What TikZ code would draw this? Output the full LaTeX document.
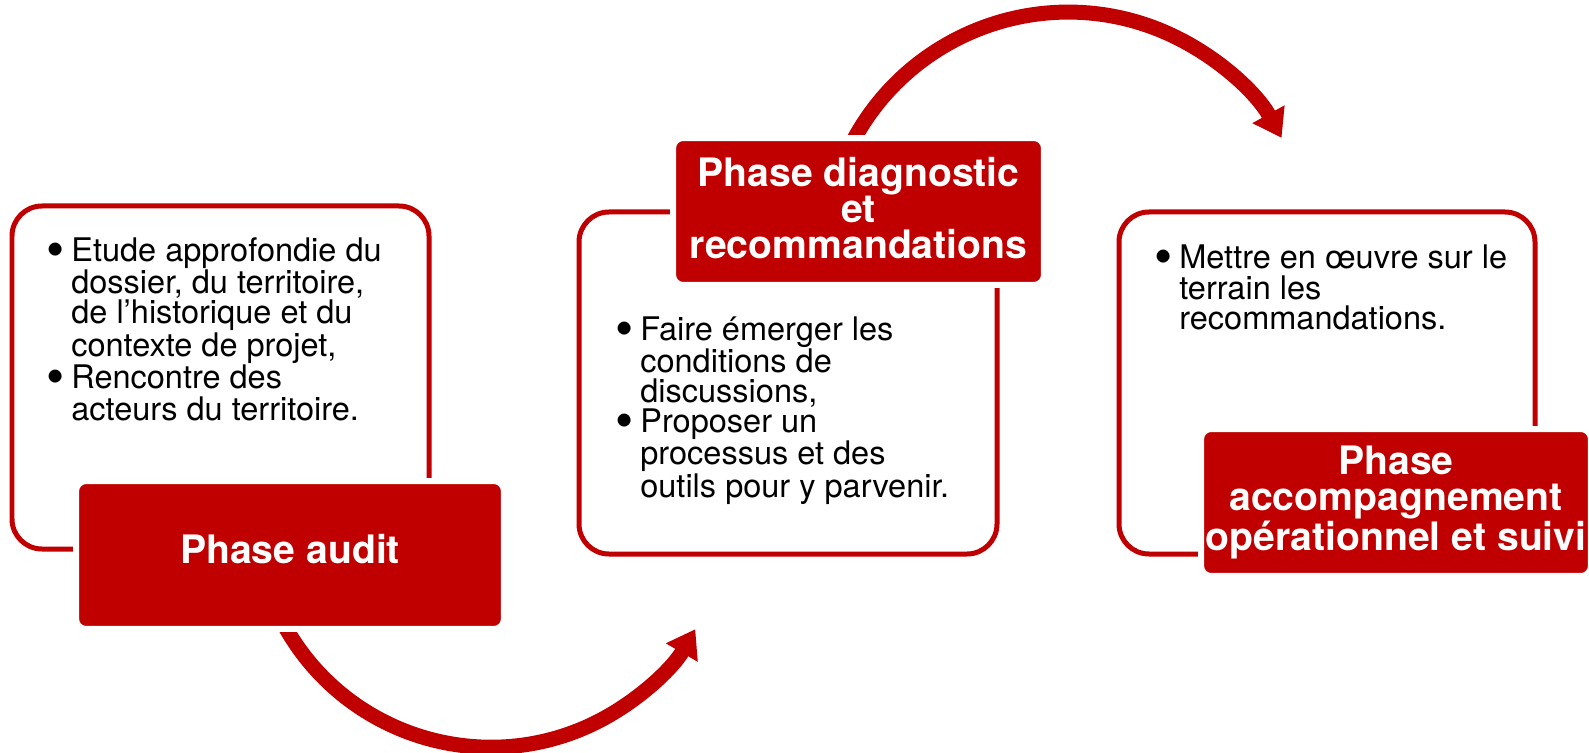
\documentclass[tikz,border=0pt]{standalone}
\usepackage{fontspec}
\setmainfont{TeX Gyre Heros}
\usetikzlibrary{arrows.meta,backgrounds}

\definecolor{phasered}{RGB}{192,0,0}
\newcommand{\puce}{\makebox[0.5cm][l]{\raisebox{-0.19em}{\scalebox{1.6}{\textbullet}}}}
\newcommand{\suite}{\hspace*{0.5cm}}

\tikzset{
  cadre/.style={draw=phasered, line width=0.1cm, rounded corners=0.6cm},
  phase/.style={fill=phasered, draw=white, line width=0.12cm, rounded corners=0.2cm,
    text=white, font=\fontsize{22.3pt}{20.5pt}\selectfont\bfseries, align=center, inner sep=0pt},
  notes/.style={anchor=north west, align=left, inner sep=0pt, font=\fontsize{18.5pt}{17pt}\selectfont},
  fleche/.style={draw=phasered, line width=0.3cm, -{Triangle[width=0.7cm,length=0.54cm]}}
}

\begin{document}
\begin{tikzpicture}[x=0.02cm, y=-0.02cm]

\useasboundingbox (0,0) rectangle (1589,753);

\draw[cadre] (12,206) rectangle (429,549);
\draw[cadre] (579,212) rectangle (997,554);
\draw[cadre] (1119,212) rectangle (1535,554);

\node[phase, minimum width=8.56cm, minimum height=2.96cm, text depth=0.24cm] (audit) at (290,555) {Phase audit};
\node[phase, minimum width=7.42cm, minimum height=2.94cm, text depth=0.16cm] (diag) at (858.5,211.5) {Phase diagnostic\\et\\recommandations};
\node[phase, minimum width=7.8cm, minimum height=2.94cm] (suivi) at (1396,502.5) {Phase\\accompagnement\\opérationnel et suivi};

\coordinate (audit-sortie) at ([xshift=-0.15cm,yshift=0.2cm]audit.south);
\coordinate (diag-sortie) at ([xshift=-0.23cm,yshift=-0.36cm]diag.north);
\begin{scope}[on background layer]
\draw[fleche] (audit-sortie) arc[start angle=152, end angle=30, radius=236];
\draw[fleche] (diag-sortie) arc[start angle=205, end angle=331, radius=244];
\end{scope}

\node[notes] (auditnotes) at (46,237) {\puce Etude approfondie du\\\suite dossier, du territoire,\\\suite de l’historique et du\\\suite contexte de projet,\\\puce Rencontre des\\\suite acteurs du territoire.};
\node[notes] (diagnotes) at (615,316) {\puce Faire émerger les\\\suite conditions de\\\suite discussions,\\\puce Proposer un\\\suite processus et des\\\suite outils pour y parvenir.};
\node[notes] (suivinotes) at (1154,244) {\puce Mettre en œuvre sur le\\\suite terrain les\\\suite recommandations.};

\end{tikzpicture}
\end{document}
